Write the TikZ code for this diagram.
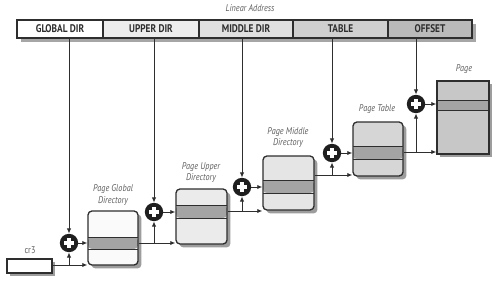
\documentclass[tikz,border=0pt]{standalone}
\usepackage{fontspec}
\setmainfont{PT Sans}
\usetikzlibrary{arrows.meta,shadows,calc}
\definecolor{ln}{HTML}{2E2E2E}
\definecolor{bandc}{HTML}{A4A4A4}
\definecolor{lblc}{HTML}{5E5E5E}
\newcommand\cnd[1]{\scalebox{0.84}[1]{#1}}
\begin{document}
\begin{tikzpicture}[x=0.75pt,y=-0.75pt,
  shd/.style={drop shadow={shadow xshift=2.6pt, shadow yshift=-2.6pt, fill=black!45, opacity=0.85}},
  seg/.style={draw=ln, line width=0.9pt, minimum height=13.5pt, inner sep=0,
    font=\bfseries\fontsize{8.3}{9}\selectfont, text=black!82},
  tbl/.style n args={5}{draw=ln, line width=1pt, rounded corners=#5, inner sep=0,
    minimum width=#1, minimum height=#2, fill=white, shd,
    path picture={
      \fill[bandc] ($(path picture bounding box.north west)+(0pt,{-0.75pt*#3})$)
        rectangle ($(path picture bounding box.north east)+(0pt,{-0.75pt*#4})$);
      \draw[ln, line width=0.75pt]
        ($(path picture bounding box.north west)+(0pt,{-0.75pt*#3})$) -- ($(path picture bounding box.north east)+(0pt,{-0.75pt*#3})$)
        ($(path picture bounding box.north west)+(0pt,{-0.75pt*#4})$) -- ($(path picture bounding box.north east)+(0pt,{-0.75pt*#4})$);
    }},
  plus/.style={circle, fill=black!88, minimum size=13.8pt, inner sep=0,
    path picture={
      \draw[white, line width=2.4pt]
        (path picture bounding box.center) ++(-3.6pt,0pt) -- ++(7.2pt,0pt)
        (path picture bounding box.center) ++(0pt,-3.6pt) -- ++(0pt,7.2pt);
    }},
  lbl/.style={font=\itshape\fontsize{7.3}{8.3}\selectfont, text=lblc, align=center},
  con/.style={draw=ln, line width=0.65pt},
  arr/.style={con, -{Latex[length=3.8pt,width=3.2pt]}}
]
\useasboundingbox (0,0) rectangle (500,286);

% linear address bar
\node[lbl] (la) at (250,8) {\cnd{Linear Address}};
\fill[black!35] (21,24) rectangle (476,42);
\node[seg, fill=white, minimum width=64.5pt] (gd) at (60,29) {\cnd{GLOBAL DIR}};
\node[seg, fill=black!7, minimum width=72pt] (ud) at (151,29) {\cnd{UPPER DIR}};
\node[seg, fill=black!12, minimum width=70.5pt] (md) at (246,29) {\cnd{MIDDLE DIR}};
\node[seg, fill=black!19, minimum width=71.25pt] (td) at (340.5,29) {\cnd{TABLE}};
\node[seg, fill=black!27, minimum width=63pt] (od) at (430,29) {\cnd{OFFSET}};

% cr3
\node[draw=ln, line width=1pt, fill=white, minimum width=33.75pt, minimum height=10.5pt, inner sep=0, shd] (cr3) at (29.5,266) {};
\node[font=\fontsize{7.3}{8}\selectfont, text=lblc] (lcr3) at (30,250) {\cnd{cr3}};

% tables
\node[tbl={37.5pt}{40.5pt}{26}{38}{3pt}, fill=black!2] (pgd) at (113,238) {};
\node[tbl={38.25pt}{41.25pt}{16}{29}{3pt}, fill=black!8] (pud) at (201.5,216.5) {};
\node[tbl={38.25pt}{40.5pt}{24}{37}{3pt}, fill=black!10] (pmd) at (288.5,183) {};
\node[tbl={37.5pt}{40.5pt}{24}{37}{3pt}, fill=black!16] (pt) at (378,149) {};
\node[tbl={39pt}{54.75pt}{19}{29}{0pt}, fill=black!22] (pg) at (463,117.5) {};

\node[lbl] (lpgd) at (113,195) {\cnd{Page Global}\\\cnd{Directory}};
\node[lbl] (lpud) at (201,173) {\cnd{Page Upper}\\\cnd{Directory}};
\node[lbl] (lpmd) at (288,138) {\cnd{Page Middle}\\\cnd{Directory}};
\node[lbl] (lpt) at (377,109) {\cnd{Page Table}};
\node[lbl] (lpg) at (464,69) {\cnd{Page}};

% adders
\node[plus] (p1) at (69,243) {};
\node[plus] (p2) at (154,212) {};
\node[plus] (p3) at (242,187) {};
\node[plus] (p4) at (332,153) {};
\node[plus] (p5) at (416,104) {};

% junctions
\coordinate (j0) at (69,265);
\coordinate (j1) at (154,243);
\coordinate (j2) at (242,211);
\coordinate (j3) at (332,175);
\coordinate (j4) at (416,152);

% vertical index lines
\draw[arr] (p1 |- gd.south) -- (p1.north);
\draw[arr] (p2 |- ud.south) -- (p2.north);
\draw[arr] (p3 |- md.south) -- (p3.north);
\draw[arr] (p4 |- td.south) -- (p4.north);
\draw[arr] (p5 |- od.south) -- (p5.north);

% base chain
\draw[con] (cr3.east |- j0) -- (j0);
\draw[arr] (j0) -- (j0 -| pgd.west);
\draw[arr] (j0) -- (p1.south);
\draw[arr] (p1.east) -- (p1.east -| pgd.west);

\draw[con] (pgd.east |- j1) -- (j1);
\draw[arr] (j1) -- (j1 -| pud.west);
\draw[arr] (j1) -- (p2.south);
\draw[arr] (p2.east) -- (p2.east -| pud.west);

\draw[con] (pud.east |- j2) -- (j2);
\draw[arr] (j2) -- (j2 -| pmd.west);
\draw[arr] (j2) -- (p3.south);
\draw[arr] (p3.east) -- (p3.east -| pmd.west);

\draw[con] (pmd.east |- j3) -- (j3);
\draw[arr] (j3) -- (j3 -| pt.west);
\draw[arr] (j3) -- (p4.south);
\draw[arr] (p4.east) -- (p4.east -| pt.west);

\draw[con] (pt.east |- j4) -- (j4);
\draw[arr] (j4) -- (j4 -| pg.west);
\draw[arr] (j4) -- (p5.south);
\draw[arr] (p5.east) -- (p5.east -| pg.west);
\end{tikzpicture}
\end{document}
